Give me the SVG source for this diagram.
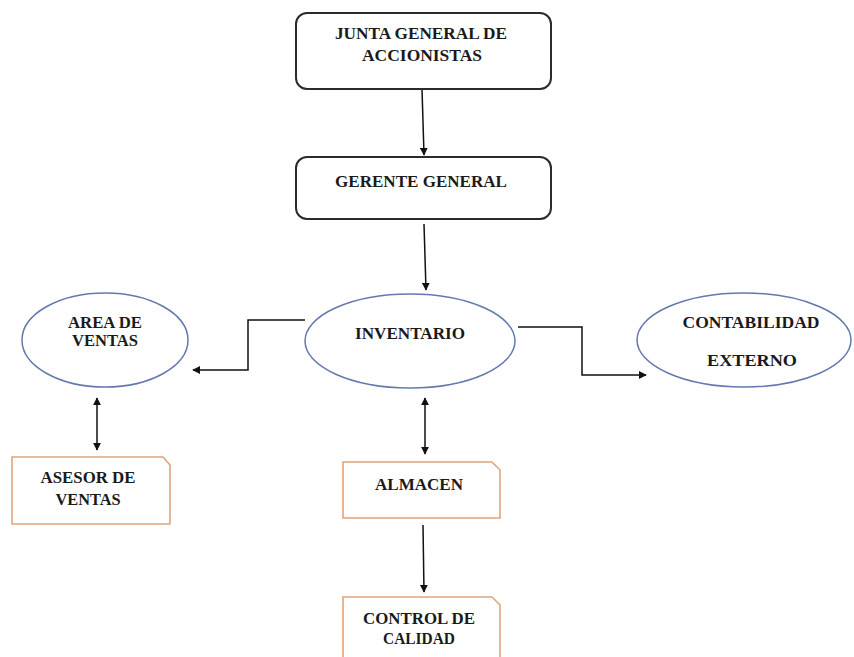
<svg xmlns="http://www.w3.org/2000/svg" width="854" height="657" viewBox="0 0 854 657">
<style>
.t{font-family:"Liberation Serif","Times New Roman",serif;font-weight:bold;font-size:17px;fill:#1a1a1a;text-anchor:middle}
.rb{fill:#fff;stroke:#2b2b2b;stroke-width:2}
.el{fill:#fff;stroke:#6478b0;stroke-width:1.5}
.ob{fill:#fff;stroke:#e2a47a;stroke-width:1.6}
.c{fill:none;stroke:#111;stroke-width:1.5}
</style>
<defs>
<marker id="ah" viewBox="0 0 10 10" refX="9" refY="5" markerWidth="8" markerHeight="8" markerUnits="userSpaceOnUse" orient="auto-start-reverse">
<path d="M0,0 L10,5 L0,10 Z" fill="#111"/>
</marker>
</defs>
<rect width="854" height="657" fill="#fff"/>
<g id="connectors">
<line class="c" x1="422" y1="89" x2="424" y2="155" marker-end="url(#ah)"/>
<line class="c" x1="424" y1="224" x2="426" y2="290" marker-end="url(#ah)"/>
<polyline class="c" points="305,320 248,320 248,370 193,370" marker-end="url(#ah)"/>
<polyline class="c" points="518,327 582,327 582,375 646,375" marker-end="url(#ah)"/>
<line class="c" x1="97" y1="398" x2="97" y2="450" marker-start="url(#ah)" marker-end="url(#ah)"/>
<line class="c" x1="425" y1="398" x2="425" y2="454" marker-start="url(#ah)" marker-end="url(#ah)"/>
<line class="c" x1="423" y1="525" x2="424" y2="592" marker-end="url(#ah)"/>
</g>
<g id="junta">
<rect class="rb" x="296" y="13" width="255" height="76" rx="11"/>
<text class="t" x="421" y="39" textLength="172" lengthAdjust="spacingAndGlyphs">JUNTA GENERAL DE</text>
<text class="t" x="422" y="61" textLength="120" lengthAdjust="spacingAndGlyphs">ACCIONISTAS</text>
</g>
<g id="gerente">
<rect class="rb" x="296" y="157" width="255" height="62" rx="11"/>
<text class="t" x="421" y="187" textLength="172" lengthAdjust="spacingAndGlyphs">GERENTE GENERAL</text>
</g>
<g id="inventario">
<ellipse class="el" cx="410" cy="341" rx="105" ry="47"/>
<text class="t" x="410" y="339" textLength="110" lengthAdjust="spacingAndGlyphs">INVENTARIO</text>
</g>
<g id="area">
<ellipse class="el" cx="105" cy="340" rx="83" ry="47"/>
<text class="t" x="105" y="328" textLength="74" lengthAdjust="spacingAndGlyphs">AREA DE</text>
<text class="t" x="105" y="346" textLength="66" lengthAdjust="spacingAndGlyphs">VENTAS</text>
</g>
<g id="contabilidad">
<ellipse class="el" cx="744" cy="340" rx="107" ry="47"/>
<text class="t" x="751" y="328" textLength="137" lengthAdjust="spacingAndGlyphs">CONTABILIDAD</text>
<text class="t" x="752" y="366" textLength="90" lengthAdjust="spacingAndGlyphs">EXTERNO</text>
</g>
<g id="asesor">
<path class="ob" d="M12,457 H163 L170,465 V524 H12 Z"/>
<text class="t" x="88" y="483" textLength="95" lengthAdjust="spacingAndGlyphs">ASESOR DE</text>
<text class="t" x="88" y="505" textLength="65" lengthAdjust="spacingAndGlyphs">VENTAS</text>
</g>
<g id="almacen">
<path class="ob" d="M343,462 H492 L500,470 V518 H343 Z"/>
<text class="t" x="419" y="490" textLength="88" lengthAdjust="spacingAndGlyphs">ALMACEN</text>
</g>
<g id="control">
<path class="ob" d="M343,597 H492 L500,605 V660 H343 Z"/>
<text class="t" x="419" y="624" textLength="112" lengthAdjust="spacingAndGlyphs">CONTROL DE</text>
<text class="t" x="419" y="644" textLength="72" lengthAdjust="spacingAndGlyphs">CALIDAD</text>
</g>
</svg>
